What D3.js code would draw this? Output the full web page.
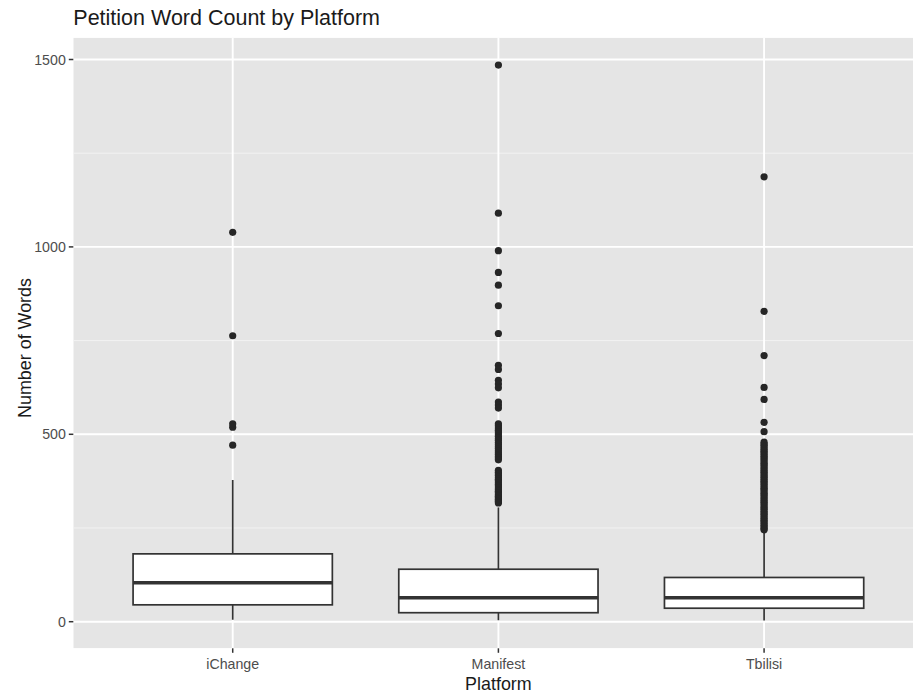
<!DOCTYPE html>
<html>
<head>
<meta charset="utf-8">
<script src="https://cdn.jsdelivr.net/npm/d3@7"></script>
<style>
  html, body { margin: 0; padding: 0; background: #ffffff; }
  svg { display: block; }
  text { font-family: "Liberation Sans", Arial, Helvetica, sans-serif; }
</style>
</head>
<body>
<div id="chart"></div>
<script>
// ---------------- DATA ----------------
const categories = ["iChange", "Manifest", "Tbilisi"];
const whiskerLow  = [5, 4, 3];
const q1          = [45, 24, 36];
const median      = [104, 64, 64];
const q3          = [181, 140, 118];
const whiskerHigh = [378, 305, 237];

const outliersIChange = [471, 519, 528, 763, 1039];
const outliersManifest = [
  1485, 1090, 990, 932, 898, 843, 769,
  684, 673, 644, 634, 624, 586, 578, 570,
  528, 523, 517, 511, 506, 501, 495, 489, 484, 478, 473, 467, 462, 456, 451, 446, 441, 437, 432,
  404, 399, 394, 390, 385, 380, 376, 371, 366, 362, 357, 352, 348, 344, 339, 335, 331, 327, 323, 320, 317
];
const outliersTbilisi = [
  1187, 828, 710, 625, 593, 532, 507,
  479, 474, 470, 465, 460, 455, 451, 446, 441, 437, 432, 427, 422, 418, 413, 408, 403, 399, 394, 389,
  385, 380, 375, 371, 366, 361, 356, 352, 347, 342, 338, 333, 328, 323, 319, 314, 309, 304, 300, 295,
  290, 286, 281, 276, 271, 267, 262, 257, 253, 248, 245
];
const outliers = [outliersIChange, outliersManifest, outliersTbilisi];

const yMajorTicks = [0, 500, 1000, 1500];
const yMinorTicks = [250, 750, 1250];

const titleText = "Petition Word Count by Platform";
const xTitle = "Platform";
const yTitle = "Number of Words";

// ---------------- LAYOUT ----------------
const W = 914, H = 694;
const panel = { left: 73.3, right: 923.5, top: 37.7, bottom: 648.3 };

const svg = d3.select("#chart").append("svg")
  .attr("width", W).attr("height", H);

// discrete x as continuous positions 1..n with ggplot expansion 0.6
const x = d3.scaleLinear()
  .domain([0.4, categories.length + 0.6])
  .range([panel.left, panel.right]);
const xPos = i => x(i + 1);
const boxHalf = (x(1.375) - x(1));

// y scale
const y = d3.scaleLinear().domain([0, 1500]).range([621.7, 59.5]);

svg.append("defs").append("clipPath").attr("id", "clipPanel")
  .append("rect")
  .attr("x", panel.left).attr("y", panel.top)
  .attr("width", Math.min(W - 1, panel.right) - panel.left)
  .attr("height", panel.bottom - panel.top);

const g = svg.append("g").attr("clip-path", "url(#clipPanel)");

// panel background
g.append("rect")
  .attr("x", panel.left).attr("y", panel.top)
  .attr("width", panel.right - panel.left)
  .attr("height", panel.bottom - panel.top)
  .attr("fill", "#E5E5E5");

// minor grid
g.selectAll("line.minor").data(yMinorTicks).enter().append("line")
  .attr("x1", panel.left).attr("x2", panel.right)
  .attr("y1", d => y(d)).attr("y2", d => y(d))
  .attr("stroke", "#F2F2F2").attr("stroke-width", 1);

// major grid horizontal
g.selectAll("line.major").data(yMajorTicks).enter().append("line")
  .attr("x1", panel.left).attr("x2", panel.right)
  .attr("y1", d => y(d)).attr("y2", d => y(d))
  .attr("stroke", "#FFFFFF").attr("stroke-width", 1.9);

// major grid vertical
g.selectAll("line.vmajor").data(categories).enter().append("line")
  .attr("x1", (d, i) => xPos(i)).attr("x2", (d, i) => xPos(i))
  .attr("y1", panel.top).attr("y2", panel.bottom)
  .attr("stroke", "#FFFFFF").attr("stroke-width", 1.9);

const lineCol = "#333333";

// boxplots
categories.forEach((c, i) => {
  const cx = xPos(i);
  g.append("line").attr("x1", cx).attr("x2", cx)
    .attr("y1", y(q3[i])).attr("y2", y(whiskerHigh[i]))
    .attr("stroke", lineCol).attr("stroke-width", 1.7);
  g.append("line").attr("x1", cx).attr("x2", cx)
    .attr("y1", y(q1[i])).attr("y2", y(whiskerLow[i]))
    .attr("stroke", lineCol).attr("stroke-width", 1.7);
  g.append("rect")
    .attr("x", cx - boxHalf).attr("y", y(q3[i]))
    .attr("width", boxHalf * 2).attr("height", y(q1[i]) - y(q3[i]))
    .attr("fill", "#FFFFFF").attr("stroke", lineCol).attr("stroke-width", 1.7);
  g.append("line")
    .attr("x1", cx - boxHalf).attr("x2", cx + boxHalf)
    .attr("y1", y(median[i])).attr("y2", y(median[i]))
    .attr("stroke", lineCol).attr("stroke-width", 3.4);
  g.selectAll(null).data(outliers[i]).enter().append("circle")
    .attr("cx", cx).attr("cy", d => y(d))
    .attr("r", 3.6).attr("fill", "#262626");
});

// axes ticks
const tickCol = "#333333";
svg.selectAll("line.yt").data(yMajorTicks).enter().append("line")
  .attr("x1", panel.left - 4.5).attr("x2", panel.left)
  .attr("y1", d => y(d)).attr("y2", d => y(d))
  .attr("stroke", tickCol).attr("stroke-width", 1.5);
svg.selectAll("text.yl").data(yMajorTicks).enter().append("text")
  .attr("x", panel.left - 7.5).attr("y", d => y(d))
  .attr("dy", "0.36em")
  .attr("text-anchor", "end")
  .attr("font-size", "14.2px").attr("fill", "#4D4D4D")
  .text(d => d);

svg.selectAll("line.xt").data(categories).enter().append("line")
  .attr("x1", (d, i) => xPos(i)).attr("x2", (d, i) => xPos(i))
  .attr("y1", panel.bottom).attr("y2", panel.bottom + 4.5)
  .attr("stroke", tickCol).attr("stroke-width", 1.5);
svg.selectAll("text.xl").data(categories).enter().append("text")
  .attr("x", (d, i) => xPos(i)).attr("y", 668.5)
  .attr("text-anchor", "middle")
  .attr("font-size", "14.2px").attr("fill", "#4D4D4D")
  .text(d => d);

// titles
svg.append("text")
  .attr("x", panel.left).attr("y", 25)
  .attr("font-size", "21.5px").attr("fill", "#1A1A1A")
  .text(titleText);

svg.append("text")
  .attr("x", (panel.left + panel.right) / 2).attr("y", 690)
  .attr("text-anchor", "middle")
  .attr("font-size", "17.9px").attr("fill", "#1A1A1A")
  .text(xTitle);

svg.append("text")
  .attr("transform", `translate(${31}, ${(panel.top + panel.bottom) / 2 + 5}) rotate(-90)`)
  .attr("text-anchor", "middle")
  .attr("font-size", "17.9px").attr("fill", "#1A1A1A")
  .text(yTitle);
</script>
</body>
</html>
